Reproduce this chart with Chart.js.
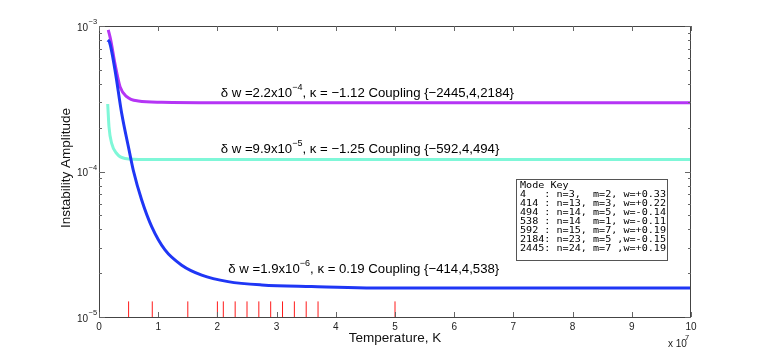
<!DOCTYPE html>
<html><head><meta charset="utf-8">
<script src="https://cdn.jsdelivr.net/npm/chart.js@4/dist/chart.umd.min.js"></script>
<style>html,body{margin:0;padding:0;background:#fff;} #wrap{width:763px;height:357px;position:relative;}</style>
</head><body><div id="wrap"><canvas id="c"></canvas></div>
<script>
// Temperatures are in units of 10^7 K
const purpleT = [0.157, 0.198, 0.27, 0.355, 0.468, 0.664, 1.06, 2.0, 10];
const purpleA = [9.4e-4, 8.0e-4, 5.5e-4, 3.83e-4, 3.27e-4, 3.05e-4, 2.99e-4, 2.97e-4, 2.97e-4];
const cyanT = [0.147, 0.169, 0.214, 0.299, 0.439, 0.777, 2.0, 10];
const cyanA = [2.91e-4, 2.03e-4, 1.56e-4, 1.33e-4, 1.23e-4, 1.21e-4, 1.21e-4, 1.21e-4];
const blueT = [0.147, 0.177, 0.27, 0.383, 0.507, 0.579, 0.721, 0.89, 1.115, 1.397, 1.735, 2.18, 2.75, 3.59, 5.0, 10];
const blueA = [8.0e-4, 7.77e-4, 4.99e-4, 2.51e-4, 1.41e-4, 1.02e-4, 6.37e-5, 4.18e-5, 2.89e-5, 2.27e-5, 1.94e-5, 1.75e-5, 1.66e-5, 1.62e-5, 1.58e-5, 1.58e-5];
const modeTempT = [0.5, 0.9, 1.5, 2.0, 2.1, 2.3, 2.5, 2.7, 2.9, 3.1, 3.3, 3.5, 3.7, 5.0];
const modeMarkRange = [1e-5, 1.28e-5];
const xTickValues = [0, 1, 2, 3, 4, 5, 6, 7, 8, 9, 10];
const yDecades = [-5, -4, -3];
const annoPurple = ['δ w =2.2x10', '−4', ', κ = −1.12 Coupling {−2445,4,2184}'];
const annoCyan = ['δ w =9.9x10', '−5', ', κ = −1.25 Coupling {−592,4,494}'];
const annoBlue = ['δ w =1.9x10', '−6', ', κ = 0.19 Coupling {−414,4,538}'];
const modeKeyLines = [
  'Mode Key',
  '4   : n=3,  m=2, w=+0.33',
  '414 : n=13, m=3, w=+0.22',
  '494 : n=14, m=5, w=-0.14',
  '538 : n=14  m=1, w=-0.11',
  '592 : n=15, m=7, w=+0.19',
  '2184: n=23, m=5 ,w=-0.15',
  '2445: n=24, m=7 ,w=+0.19'
];

const FONT = "'Liberation Sans', Arial, Helvetica, sans-serif";
const MONO = "'DejaVu Sans Mono', 'Liberation Mono', monospace";
const pts = (xs, ys) => xs.map((x, i) => ({x: x, y: ys[i]}));
const markData = [];
modeTempT.forEach(t => { markData.push({x: t, y: modeMarkRange[0]}, {x: t, y: modeMarkRange[1]}, {x: t, y: null}); });

function drawRich(ctx, x, y, parts, size, supSize, raise) {
  ctx.textAlign = 'left'; ctx.textBaseline = 'alphabetic';
  parts.forEach((t, i) => {
    const sup = i % 2 === 1;
    ctx.font = (sup ? supSize : size) + 'px ' + FONT;
    ctx.fillText(t, x, sup ? y - raise : y);
    x += ctx.measureText(t).width;
  });
}

const decor = {
  id: 'decor',
  afterDatasetsDraw(chart) {
    const ctx = chart.ctx, a = chart.chartArea;
    const xs = chart.scales.x, ys = chart.scales.y;
    ctx.save();
    // frame
    ctx.strokeStyle = '#444'; ctx.lineWidth = 1;
    ctx.strokeRect(a.left + 0.5, a.top + 0.5, a.right - a.left - 1, a.bottom - a.top);
    // x ticks
    ctx.strokeStyle = '#666';
    ctx.beginPath();
    xTickValues.forEach(v => {
      const px = Math.round(xs.getPixelForValue(v)) + 0.5;
      ctx.moveTo(px, a.bottom); ctx.lineTo(px, a.bottom - 5);
      ctx.moveTo(px, a.top); ctx.lineTo(px, a.top + 5);
    });
    // y ticks (log)
    yDecades.forEach(d => {
      for (let k = 1; k <= 9; k++) {
        const v = k * Math.pow(10, d);
        if (v > 1.0001e-3) break;
        const py = Math.round(ys.getPixelForValue(v)) + 0.5;
        const len = k === 1 ? 6 : 3;
        ctx.moveTo(a.left, py); ctx.lineTo(a.left + len, py);
        ctx.moveTo(a.right, py); ctx.lineTo(a.right - len, py);
      }
    });
    ctx.stroke();
    // y tick labels
    ctx.fillStyle = '#222';
    yDecades.forEach(d => {
      const py = ys.getPixelForValue(Math.pow(10, d));
      ctx.font = '10px ' + FONT; ctx.textAlign = 'right'; ctx.textBaseline = 'alphabetic';
      ctx.fillText('10', 88, py + 4.5);
      ctx.font = '7.5px ' + FONT; ctx.textAlign = 'left';
      ctx.fillText('−' + Math.abs(d), 88.5, py - 2);
    });
    // x exponent label
    ctx.font = '10px ' + FONT; ctx.textAlign = 'left';
    ctx.fillText('x 10', 668, 347);
    ctx.font = '7.5px ' + FONT;
    ctx.fillText('7', 685, 340);
    // axis titles
    ctx.fillStyle = '#111';
    ctx.font = '13.5px ' + FONT; ctx.textAlign = 'center'; ctx.textBaseline = 'middle';
    ctx.fillText('Temperature, K', (a.left + a.right) / 2, 338);
    ctx.save();
    ctx.translate(66, 168); ctx.rotate(-Math.PI / 2);
    ctx.fillText('Instability Amplitude', 0, 0);
    ctx.restore();
    // annotations
    ctx.fillStyle = '#000';
    drawRich(ctx, 220.7, 97, annoPurple, 13.2, 9, 7);
    drawRich(ctx, 220.7, 153, annoCyan, 13.2, 9, 7);
    drawRich(ctx, 228.3, 272.5, annoBlue, 13.2, 9, 7);
    // mode key box
    ctx.fillStyle = '#fff';
    ctx.fillRect(516.5, 179.5, 151, 81);
    ctx.strokeStyle = '#555';
    ctx.strokeRect(516.5, 179.5, 151, 81);
    ctx.fillStyle = '#000';
    ctx.font = '8.3px ' + MONO;
    ctx.textAlign = 'left'; ctx.textBaseline = 'alphabetic';
    const w = ctx.measureText(modeKeyLines[modeKeyLines.length - 1]).width;
    const sx = 146 / w;
    modeKeyLines.forEach((l, i) => {
      ctx.save();
      ctx.translate(520, 187.5 + i * 9.05);
      ctx.scale(sx, 1);
      ctx.fillText(l, 0, 0);
      ctx.restore();
    });
    ctx.restore();
  }
};

new Chart(document.getElementById('c'), {
  type: 'line',
  data: {
    datasets: [
      {label: 'modes', data: markData, borderColor: '#ff1a1a', borderWidth: 1, pointRadius: 0, spanGaps: false, order: 4},
      {label: 'cyan', data: pts(cyanT, cyanA), borderColor: '#7ff7d8', borderWidth: 3, pointRadius: 0, cubicInterpolationMode: 'monotone', order: 3},
      {label: 'purple', data: pts(purpleT, purpleA), borderColor: '#b535f5', borderWidth: 3, pointRadius: 0, cubicInterpolationMode: 'monotone', order: 2},
      {label: 'blue', data: pts(blueT, blueA), borderColor: '#1f36f5', borderWidth: 3, pointRadius: 0, cubicInterpolationMode: 'monotone', order: 1}
    ]
  },
  options: {
    responsive: true, maintainAspectRatio: false, animation: false,
    layout: {padding: {left: 0, top: 26, right: 72, bottom: 0}},
    plugins: {legend: {display: false}, tooltip: {enabled: false}},
    scales: {
      x: {
        type: 'linear', min: 0, max: 10,
        afterBuildTicks: s => { s.ticks = xTickValues.map(v => ({value: v})); },
        ticks: {font: {family: FONT, size: 10}, color: '#222', padding: 4, maxRotation: 0, autoSkip: false},
        grid: {display: false, drawTicks: false}, border: {display: false},
        afterFit: s => { s.height = 40; }
      },
      y: {
        type: 'logarithmic', min: 1e-5, max: 1e-3,
        ticks: {display: false},
        grid: {display: false, drawTicks: false}, border: {display: false},
        afterFit: s => { s.width = 99; }
      }
    }
  },
  plugins: [decor]
});
</script>
</body></html>
